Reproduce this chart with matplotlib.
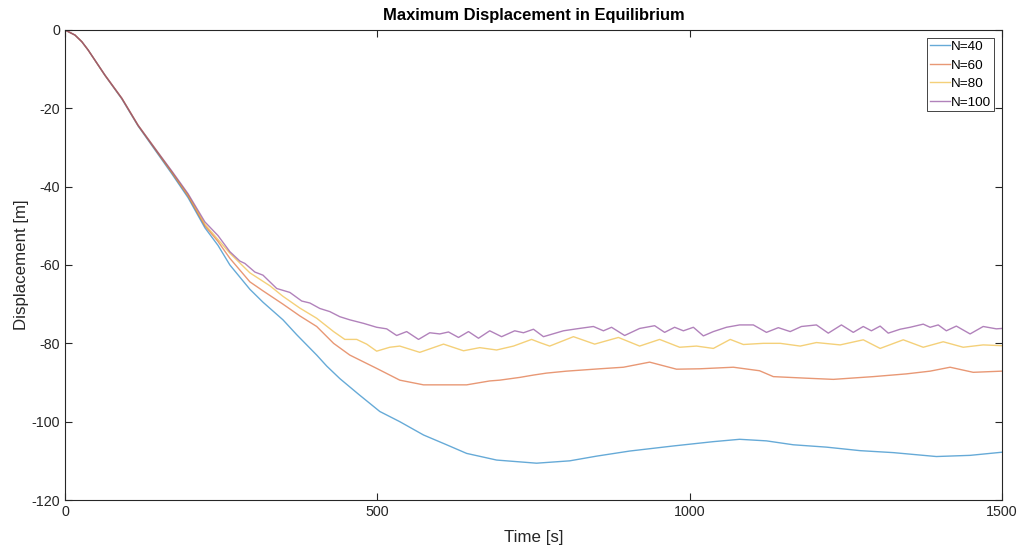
import matplotlib
matplotlib.use("Agg")
import matplotlib.pyplot as plt

# Time samples [s] and maximum displacement [m] for each discretisation
t_n40 = [0, 16, 27, 37, 64, 91, 117, 144, 171, 197, 224, 245, 264, 296, 317, 349, 371,
         403, 419, 440, 470, 504, 536, 574, 611, 643, 691, 755, 808, 851, 904, 974, 1038,
         1080, 1123, 1166, 1219, 1273, 1326, 1395, 1449, 1500]
d_n40 = [0, -1.3, -3.0, -5.1, -11.6, -17.6, -24.5, -30.6, -36.7, -42.8, -50.5, -55.0,
         -60.0, -66.2, -69.5, -74.0, -77.8, -83.0, -85.8, -89.0, -93.0, -97.4, -100.0,
         -103.4, -105.9, -108.1, -109.8, -110.6, -110.0, -108.8, -107.5, -106.2, -105.1,
         -104.5, -104.9, -105.9, -106.5, -107.4, -107.9, -108.9, -108.6, -107.8]

t_n60 = [0, 16, 27, 37, 64, 91, 117, 144, 171, 197, 224, 245, 264, 296, 317, 349, 376,
         403, 430, 456, 499, 536, 574, 643, 680, 696, 728, 750, 771, 803, 856, 894,
         936, 979, 1016, 1070, 1112, 1134, 1187, 1230, 1294, 1347, 1385, 1417, 1454, 1500]
d_n60 = [0, -1.3, -3.0, -5.1, -11.6, -17.5, -24.4, -30.4, -36.4, -42.4, -50.0, -54.0,
         -58.3, -64.3, -66.6, -70.0, -73.0, -75.7, -80.0, -83.0, -86.4, -89.4,
         -90.6, -90.6, -89.6, -89.4, -88.7, -88.1, -87.6, -87.1, -86.5, -86.1, -84.8,
         -86.6, -86.5, -86.1, -87.0, -88.5, -88.9, -89.2, -88.5, -87.8, -87.1, -86.1,
         -87.4, -87.1]

t_n80 = [0, 16, 27, 37, 64, 91, 117, 144, 171, 197, 224, 245, 264, 296, 328, 349, 376,
         403, 430, 448, 467, 483, 499, 520, 536, 568, 606, 638, 664, 691, 718, 747, 760,
         776, 814, 848, 886, 920, 952, 984, 1011, 1038, 1065, 1086, 1118, 1145, 1177,
         1203, 1241, 1278, 1305, 1342, 1374, 1406, 1438, 1470, 1500]
d_n80 = [0, -1.3, -3.0, -5.1, -11.5, -17.4, -24.3, -30.2, -36.2, -42.1, -49.6, -53.5,
         -57.0, -62.0, -65.3, -68.0, -71.0, -73.6, -77.0, -79.0, -79.0, -80.2, -82.0,
         -81.0, -80.7, -82.3, -80.2, -81.9, -81.1, -81.7, -80.7, -79.0, -79.8, -80.7,
         -78.3, -80.2, -78.5, -80.7, -79.0, -81.0, -80.7, -81.3, -79.0, -80.3, -80.0,
         -80.0, -80.7, -79.8, -80.4, -79.1, -81.3, -79.1, -81.0, -79.6, -81.0, -80.4,
         -80.6]

t_n100 = [0, 16, 27, 37, 64, 91, 117, 144, 171, 197, 224, 245, 264, 280, 288, 304, 317,
          339, 360, 379, 392, 408, 424, 440, 456, 478, 499, 515, 531, 547, 566, 584, 600,
          614, 630, 646, 662, 680, 699, 720, 734, 750, 766, 798, 819, 846, 862, 875, 896,
          920, 944, 960, 976, 990, 1006, 1022, 1038, 1059, 1080, 1102, 1123, 1142, 1161,
          1179, 1203, 1222, 1243, 1262, 1278, 1291, 1305, 1318, 1337, 1353, 1374, 1385,
          1398, 1411, 1427, 1449, 1470, 1491, 1500]
d_n100 = [0, -1.3, -3.0, -5.1, -11.5, -17.4, -24.3, -30.2, -36.0, -41.8, -49.0, -52.5,
          -56.6, -59.0, -59.6, -61.8, -62.6, -66.0, -67.0, -69.2, -69.7, -71.1, -71.9,
          -73.2, -74.0, -74.9, -75.9, -76.3, -78.0, -77.0, -79.0, -77.3, -77.6, -77.1,
          -78.5, -77.0, -78.7, -76.8, -78.3, -76.8, -77.3, -76.4, -78.3, -76.8, -76.3,
          -75.7, -76.8, -75.9, -78.0, -76.2, -75.5, -77.2, -75.9, -76.8, -75.9, -78.1,
          -77.0, -75.9, -75.3, -75.3, -77.2, -76.0, -77.0, -75.7, -75.3, -77.4, -75.3,
          -77.2, -75.7, -76.8, -75.6, -77.4, -76.4, -75.9, -75.1, -75.9, -75.3, -76.8,
          -75.6, -77.6, -75.7, -76.3, -76.2]

labels = ["N=40", "N=60", "N=80", "N=100"]
colors = ["#0072BD", "#D95319", "#EDB120", "#7E2F8E"]

plt.rcParams["font.family"] = ["Liberation Sans", "DejaVu Sans"]
plt.rcParams["axes.unicode_minus"] = False

fig = plt.figure(figsize=(10.2, 5.47), dpi=100)
ax = fig.add_axes([0.0637, 0.0859, 0.9186, 0.8593])

series = [(t_n40, d_n40), (t_n60, d_n60), (t_n80, d_n80), (t_n100, d_n100)]
for (t, d), lab, col in zip(series, labels, colors):
    ax.plot(t, d, color=col, lw=1.0, alpha=0.6, label=lab, solid_joinstyle="round")

ax.set_xlim(0, 1500)
ax.set_ylim(-120, 0)
ax.set_xticks([0, 500, 1000, 1500])
ax.set_yticks(range(-120, 1, 20))

axis_gray = "#262626"
for sp in ax.spines.values():
    sp.set_color(axis_gray)
    sp.set_linewidth(0.8)
ax.tick_params(direction="in", top=True, right=True, length=5, width=0.8,
               colors=axis_gray, labelsize=10.3)

ax.set_title("Maximum Displacement in Equilibrium", fontsize=11.9, fontweight="bold",
             color="black", pad=7.5)
ax.set_xlabel("Time [s]", fontsize=12.2, color=axis_gray, labelpad=8)
ax.set_ylabel("Displacement [m]", fontsize=12.2, color=axis_gray, labelpad=2)

leg = ax.legend(loc="upper right", fontsize=9.7, handlelength=1.5, handletextpad=0.1,
                borderpad=0.2, labelspacing=0.45, borderaxespad=0, fancybox=False,
                framealpha=1, edgecolor=axis_gray, bbox_to_anchor=(0.9915, 0.983))
leg.get_frame().set_linewidth(0.6)

fig.savefig("out.png", dpi=100)
